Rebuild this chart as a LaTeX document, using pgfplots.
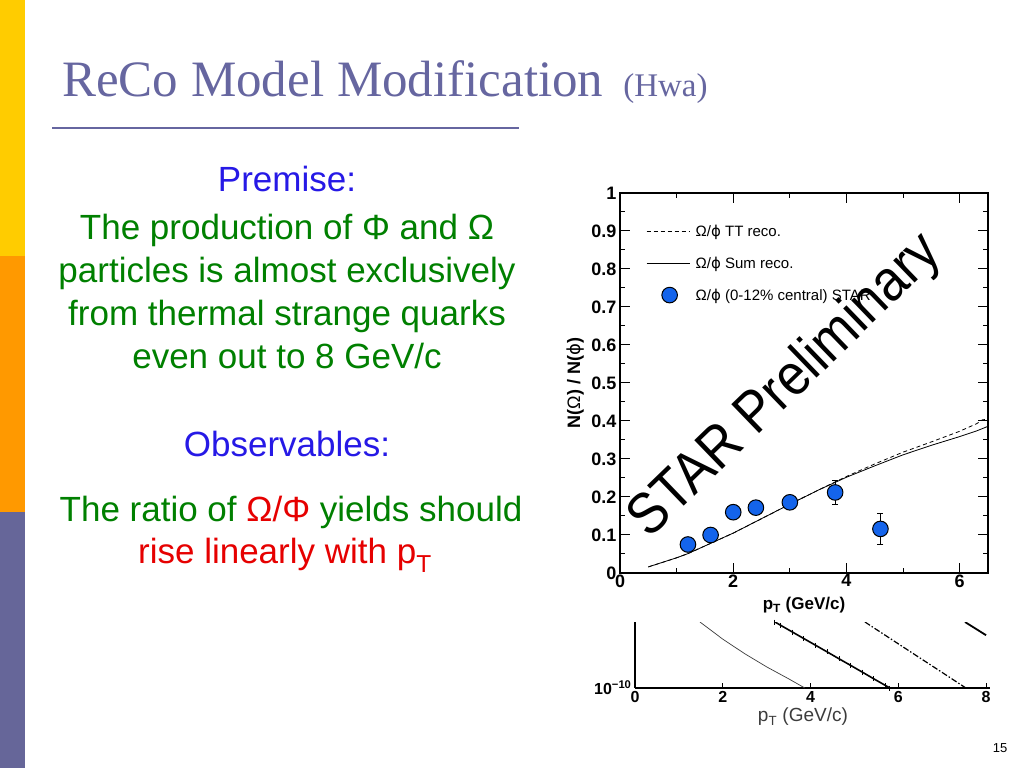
\documentclass[border=0pt]{standalone}
\usepackage{fontspec}
\setmainfont{Liberation Sans}
\newfontfamily\seriffont{Liberation Serif}
\newfontfamily\dejavu{DejaVu Sans}
\usepackage{pgfplots}
\pgfplotsset{compat=1.18}

\definecolor{baryellow}{RGB}{255,204,0}
\definecolor{barorange}{RGB}{255,153,0}
\definecolor{barpurple}{RGB}{102,102,153}
\definecolor{titlecol}{RGB}{102,102,160}
\definecolor{premblue}{RGB}{38,25,230}
\definecolor{textgreen}{RGB}{0,128,0}
\definecolor{textred}{RGB}{230,0,0}
\definecolor{markblue}{RGB}{20,100,235}
\definecolor{labelgray}{RGB}{60,60,60}

\pgfplotsset{
  legline/.style={legend image code/.code={\path[draw=none] (0pt,0pt) -- (47pt,0pt);
      \draw[##1] (0pt,0pt) -- (43pt,0pt);}},
  legmark/.style={legend image code/.code={\path[draw=none] (0pt,0pt) -- (47pt,0pt);
      \draw[##1] plot coordinates {(23pt,0pt)};}},
}

\begin{document}
\begin{tikzpicture}
\path[use as bounding box, fill=white] (0,0) rectangle (1024pt,768pt);

% side bar
\fill[baryellow] (0,512pt) rectangle (25pt,768pt);
\fill[barorange] (0,256pt) rectangle (25pt,512pt);
\fill[barpurple] (0,0) rectangle (25pt,256pt);

% title
\node[anchor=base west, inner sep=0pt, text=titlecol, font=\seriffont\fontsize{51}{56}\selectfont]
  at (62pt,671pt) {ReCo Model Modification\hspace{20pt}{\fontsize{33}{36}\selectfont(Hwa)}};
\draw[titlecol, line width=2pt] (52pt,640pt) -- (519pt,640pt);

% text blocks
\begin{scope}[every node/.style={anchor=base, inner sep=0pt, font=\fontsize{35}{43}\selectfont}]
\node[text=premblue] at (287pt,576pt) {Premise:};
\node[text=textgreen] at (287pt,528pt) {The production of Φ and Ω};
\node[text=textgreen] at (287pt,485pt) {particles is almost exclusively};
\node[text=textgreen] at (287pt,442pt) {from thermal strange quarks};
\node[text=textgreen] at (287pt,399pt) {even out to 8 GeV/c};
\node[text=premblue] at (287pt,311pt) {Observables:};
\node[text=textgreen] at (291pt,246pt) {The ratio of \textcolor{textred}{Ω/Φ} yields should};
\node[text=textred] at (285pt,204pt) {rise linearly with p\textsubscript{T}};
\end{scope}

% main ratio plot
\begin{axis}[
    at={(620pt,195pt)}, anchor=south west,
    scale only axis, width=368pt, height=380pt,
    xmin=0, xmax=6.5, ymin=0, ymax=1,
    xtick={0,2,4,6}, minor xtick={1,3,5},
    ytick={0,0.1,0.2,0.3,0.4,0.5,0.6,0.7,0.8,0.9,1},
    minor ytick={0.05,0.15,0.25,0.35,0.45,0.55,0.65,0.75,0.85,0.95},
    tick align=inside, major tick length=10pt, minor tick length=5pt,
    every tick/.style={black, line width=1pt},
    axis line style={line width=1.5pt},
    tick label style={font=\fontsize{18}{20}\selectfont\bfseries},
    xticklabel style={yshift=2pt},
    /pgf/number format/assume math mode=true,
    yticklabel style={/pgf/number format/.cd, fixed, precision=1},
    ylabel={\textbf{N(}Ω\textbf{) / N(}{\dejavu ϕ}\textbf{)}},
    ylabel style={at={(axis description cs:-0.122,0.5)}, anchor=center, font=\fontsize{18}{20}\selectfont},
    xlabel={\textbf{p\textsubscript{T} (GeV/c)}},
    xlabel style={at={(axis description cs:0.5,-0.085)}, anchor=center, font=\fontsize{17}{19}\selectfont},
    legend style={at={(axis cs:0.46,0.922)}, anchor=north west, draw=none, fill=none,
      inner sep=0pt, row sep=15pt, font=\fontsize{15}{17}\selectfont},
    legend cell align=left,
]
\addplot[black, line width=0.8pt, dash pattern=on 4pt off 3pt, legline]
  coordinates {(0.5,0.016) (1.0,0.040) (1.2,0.051) (1.6,0.078) (2.0,0.105) (2.5,0.143)
    (3.0,0.181) (3.5,0.218) (4.0,0.254) (4.5,0.287) (5.0,0.318) (5.5,0.345)
    (6.0,0.373) (6.3,0.393) (6.4,0.403) (6.5,0.405)};
\addlegendentry{Ω/{\dejavu ϕ} TT reco.}
\addplot[black, line width=0.8pt, legline]
  coordinates {(0.5,0.016) (1.0,0.040) (1.2,0.051) (1.6,0.078) (2.0,0.105) (2.5,0.143)
    (3.0,0.181) (3.5,0.218) (4.0,0.252) (4.5,0.282) (5.0,0.311) (5.5,0.336)
    (6.0,0.359) (6.3,0.374) (6.5,0.386)};
\addlegendentry{Ω/{\dejavu ϕ} Sum reco.}
\addplot[only marks, mark=*, mark size=7.8pt, legmark,
  mark options={fill=markblue, draw=black, line width=1pt},
  error bars/.cd, y dir=both, y explicit,
  error bar style={black, line width=1pt},
  error mark options={rotate=90, mark size=3pt, line width=1pt, black}]
  coordinates {(1.2,0.075) +- (0,0.008) (1.6,0.100) +- (0,0.009) (2.0,0.160) +- (0,0.010)
    (2.4,0.172) +- (0,0.010) (3.0,0.186) +- (0,0.012) (3.8,0.212) +- (0,0.032)
    (4.6,0.116) +- (0,0.041)};
\addlegendentry{Ω/{\dejavu ϕ} (0-12\% central) STAR}
\end{axis}

% lower spectrum panel (cut off at the top)
\begin{axis}[
    at={(635pt,80pt)}, anchor=south west,
    scale only axis, width=355pt, height=66pt,
    ymode=log, xmin=0, xmax=8.09, ymin=1e-10, ymax=1e-9,
    axis x line=bottom, axis y line=left,
    axis line style={-, line width=1.5pt},
    xtick={0,2,4,6,8}, ytick={1e-10},
    yticklabels={\textbf{10}\textsuperscript{\textbf{−10}}},
    tick align=inside, major tick length=5pt,
    xtick style={black, line width=1pt}, ytick style={draw=none},
    tick label style={font=\fontsize{16}{18}\selectfont\bfseries},
    /pgf/number format/assume math mode=true,
    xlabel={p\textsubscript{T} (GeV/c)},
    xlabel style={at={(axis description cs:0.473,-0.44)}, anchor=center,
      text=labelgray, font=\fontsize{19}{22}\selectfont},
]
\addplot[labelgray, line width=0.7pt]
  coordinates {(1.48,1e-9) (2.0,5.50e-10) (2.5,3.31e-10) (3.0,2.09e-10) (3.5,1.38e-10) (3.87,1e-10)};
\addplot[black, line width=1.6pt, mark=|, mark size=2.5pt, mark options={line width=1pt}]
  coordinates {(3.19,1e-9) (3.32,8.91e-10) (3.59,7.03e-10) (3.85,5.60e-10) (4.12,4.42e-10)
    (4.38,3.52e-10) (4.65,2.77e-10) (4.91,2.21e-10) (5.18,1.74e-10) (5.44,1.38e-10)
    (5.71,1.09e-10) (5.81,1e-10)};
\addplot[black, line width=1.2pt, dash pattern=on 6pt off 2pt on 1.5pt off 2pt]
  coordinates {(5.24,1e-9) (5.8,5.71e-10) (6.4,3.13e-10) (7.0,1.72e-10) (7.54,1e-10)};
\addplot[black, line width=1.8pt]
  coordinates {(7.52,1e-9) (8.0,6.31e-10)};
\end{axis}

% watermark and page number
\node[rotate=44, yscale=1.12, font=\fontsize{52}{58}\selectfont] at (786pt,381pt) {STAR Preliminary};
\node[font=\fontsize{13}{15}\selectfont] at (1000pt,20pt) {15};
\end{tikzpicture}
\end{document}
